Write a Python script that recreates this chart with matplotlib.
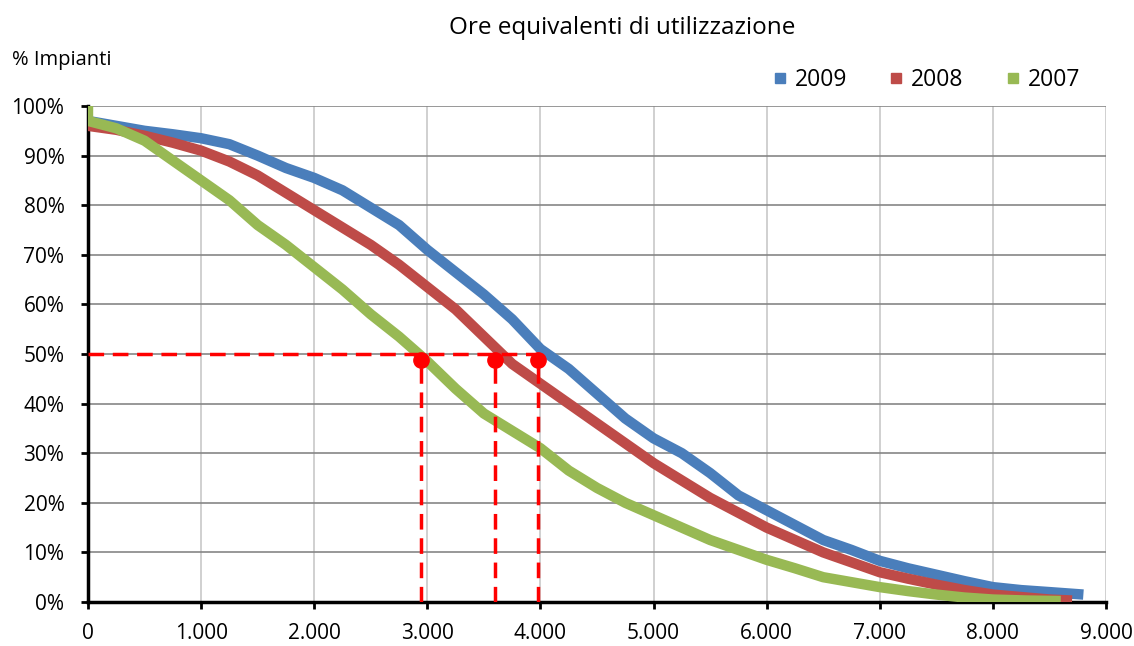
import numpy as np
import matplotlib.pyplot as plt
from matplotlib.lines import Line2D
from matplotlib.ticker import FuncFormatter, MultipleLocator

plt.rcParams['font.family'] = ['Open Sans', 'DejaVu Sans']

# ore equivalenti (x) vs % impianti (y)
ore_2009 = [0, 250, 500, 750, 1000, 1250, 1500, 1750, 2000, 2250, 2500, 2750, 3000, 3250, 3500,
            3750, 4000, 4250, 4500, 4750, 5000, 5250, 5500, 5750, 6000, 6250, 6500, 6750, 7000,
            7250, 7500, 7750, 8000, 8250, 8500, 8800]
pct_2009 = [97, 96, 95, 94.3, 93.5, 92.3, 90, 87.5, 85.5, 83, 79.5, 76, 71, 66.5, 62,
            57, 51, 47, 42, 37, 33, 30, 26, 21.5, 18.5, 15.5, 12.5, 10.5, 8.3,
            6.8, 5.5, 4.2, 3, 2.4, 2, 1.5]

ore_2008 = [0, 250, 500, 750, 1000, 1250, 1500, 1750, 2000, 2250, 2500, 2750, 3000, 3250, 3500,
            3750, 4000, 4250, 4500, 4750, 5000, 5250, 5500, 5750, 6000, 6250, 6500, 6750, 7000,
            7250, 7500, 7750, 8000, 8250, 8500, 8700]
pct_2008 = [96, 95.2, 94, 92.6, 91, 88.8, 86, 82.5, 79, 75.5, 72, 68, 63.5, 59, 53.5,
            48, 44, 40, 36, 32, 28, 24.5, 21, 18, 15, 12.5, 10, 8, 6,
            4.7, 3.5, 2.4, 1.5, 1, 0.5, 0.3]

ore_2007 = [0, 0, 250, 500, 750, 1000, 1250, 1500, 1750, 2000, 2250, 2500, 2750, 3000, 3250,
            3500, 3750, 4000, 4250, 4500, 4750, 5000, 5250, 5500, 5750, 6000, 6250, 6500, 6750,
            7000, 7250, 7500, 7750, 8000, 8300, 8600]
pct_2007 = [100, 97, 95.5, 93, 89, 85, 81, 76, 72, 67.5, 63, 58, 53.5, 48.5, 43,
            38, 34.5, 31, 26.5, 23, 20, 17.5, 15, 12.5, 10.5, 8.5, 6.8, 5, 4,
            3, 2.2, 1.5, 0.9, 0.5, 0.3, 0.2]

# ore al 50% degli impianti
ore_50 = [2944, 3600, 3980]
pct_50 = 50

colors = {'2009': '#4a7ebb', '2008': '#be4b48', '2007': '#98b954'}

fig = plt.figure(figsize=(11.34, 6.46), dpi=100)
ax = fig.add_axes([88 / 1134, 1 - 602 / 646, (1106 - 88) / 1134, (602 - 106) / 646])

for ore, pct, year in [(ore_2009, pct_2009, '2009'), (ore_2008, pct_2008, '2008'),
                       (ore_2007, pct_2007, '2007')]:
    ax.plot(ore, pct, color=colors[year], lw=7.5, solid_capstyle='butt',
            solid_joinstyle='round', zorder=3)

# linee tratteggiate al 50%
ax.plot([0, max(ore_50)], [pct_50, pct_50], color='#ff0000', lw=2.5,
        dashes=(4.5, 2.5), zorder=4)
for x in ore_50:
    ax.plot([x, x], [0, pct_50], color='#ff0000', lw=2.5, dashes=(4.5, 2.5), zorder=4)
    ax.plot(x, pct_50 - 1.2, 'o', color='#ff0000', ms=11, zorder=5)

ax.set_xlim(0, 9000)
ax.set_ylim(0, 100)
ax.xaxis.set_major_locator(MultipleLocator(1000))
ax.yaxis.set_major_locator(MultipleLocator(10))
ax.xaxis.set_major_formatter(FuncFormatter(lambda v, p: f'{int(v):,}'.replace(',', '.')))
ax.yaxis.set_major_formatter(FuncFormatter(lambda v, p: f'{int(v)}%'))

ax.grid(axis='y', color='#868686', lw=1.2)
ax.grid(axis='x', color='#c8c8c8', lw=1.2)
ax.set_axisbelow(True)
for s in ['top', 'right']:
    ax.spines[s].set_visible(False)
ax.spines['left'].set_linewidth(2.5)
ax.spines['bottom'].set_linewidth(2.5)
ax.tick_params(axis='both', direction='out', width=2, length=5, labelsize=15, colors='black')
ax.tick_params(axis='x', pad=10)
ax.tick_params(axis='y', pad=12)

fig.text(622 / 1134, 1 - 28 / 646, 'Ore equivalenti di utilizzazione', ha='center', va='center',
         fontsize=17.5)
fig.text(12 / 1134, 1 - 60 / 646, '% Impianti', ha='left', va='center', fontsize=14.5)

handles = [Line2D([], [], ls='none', marker='s', ms=7, color=colors[y]) for y in colors]
ax.legend(handles, list(colors), loc='center right', bbox_to_anchor=(1080 / 1134, 1 - 80 / 646),
          bbox_transform=fig.transFigure, ncol=3, frameon=False, fontsize=16.5,
          handlelength=0.5, columnspacing=1.9, handletextpad=0.4, borderaxespad=0,
          borderpad=0)

fig.savefig('out.png', dpi=100)
